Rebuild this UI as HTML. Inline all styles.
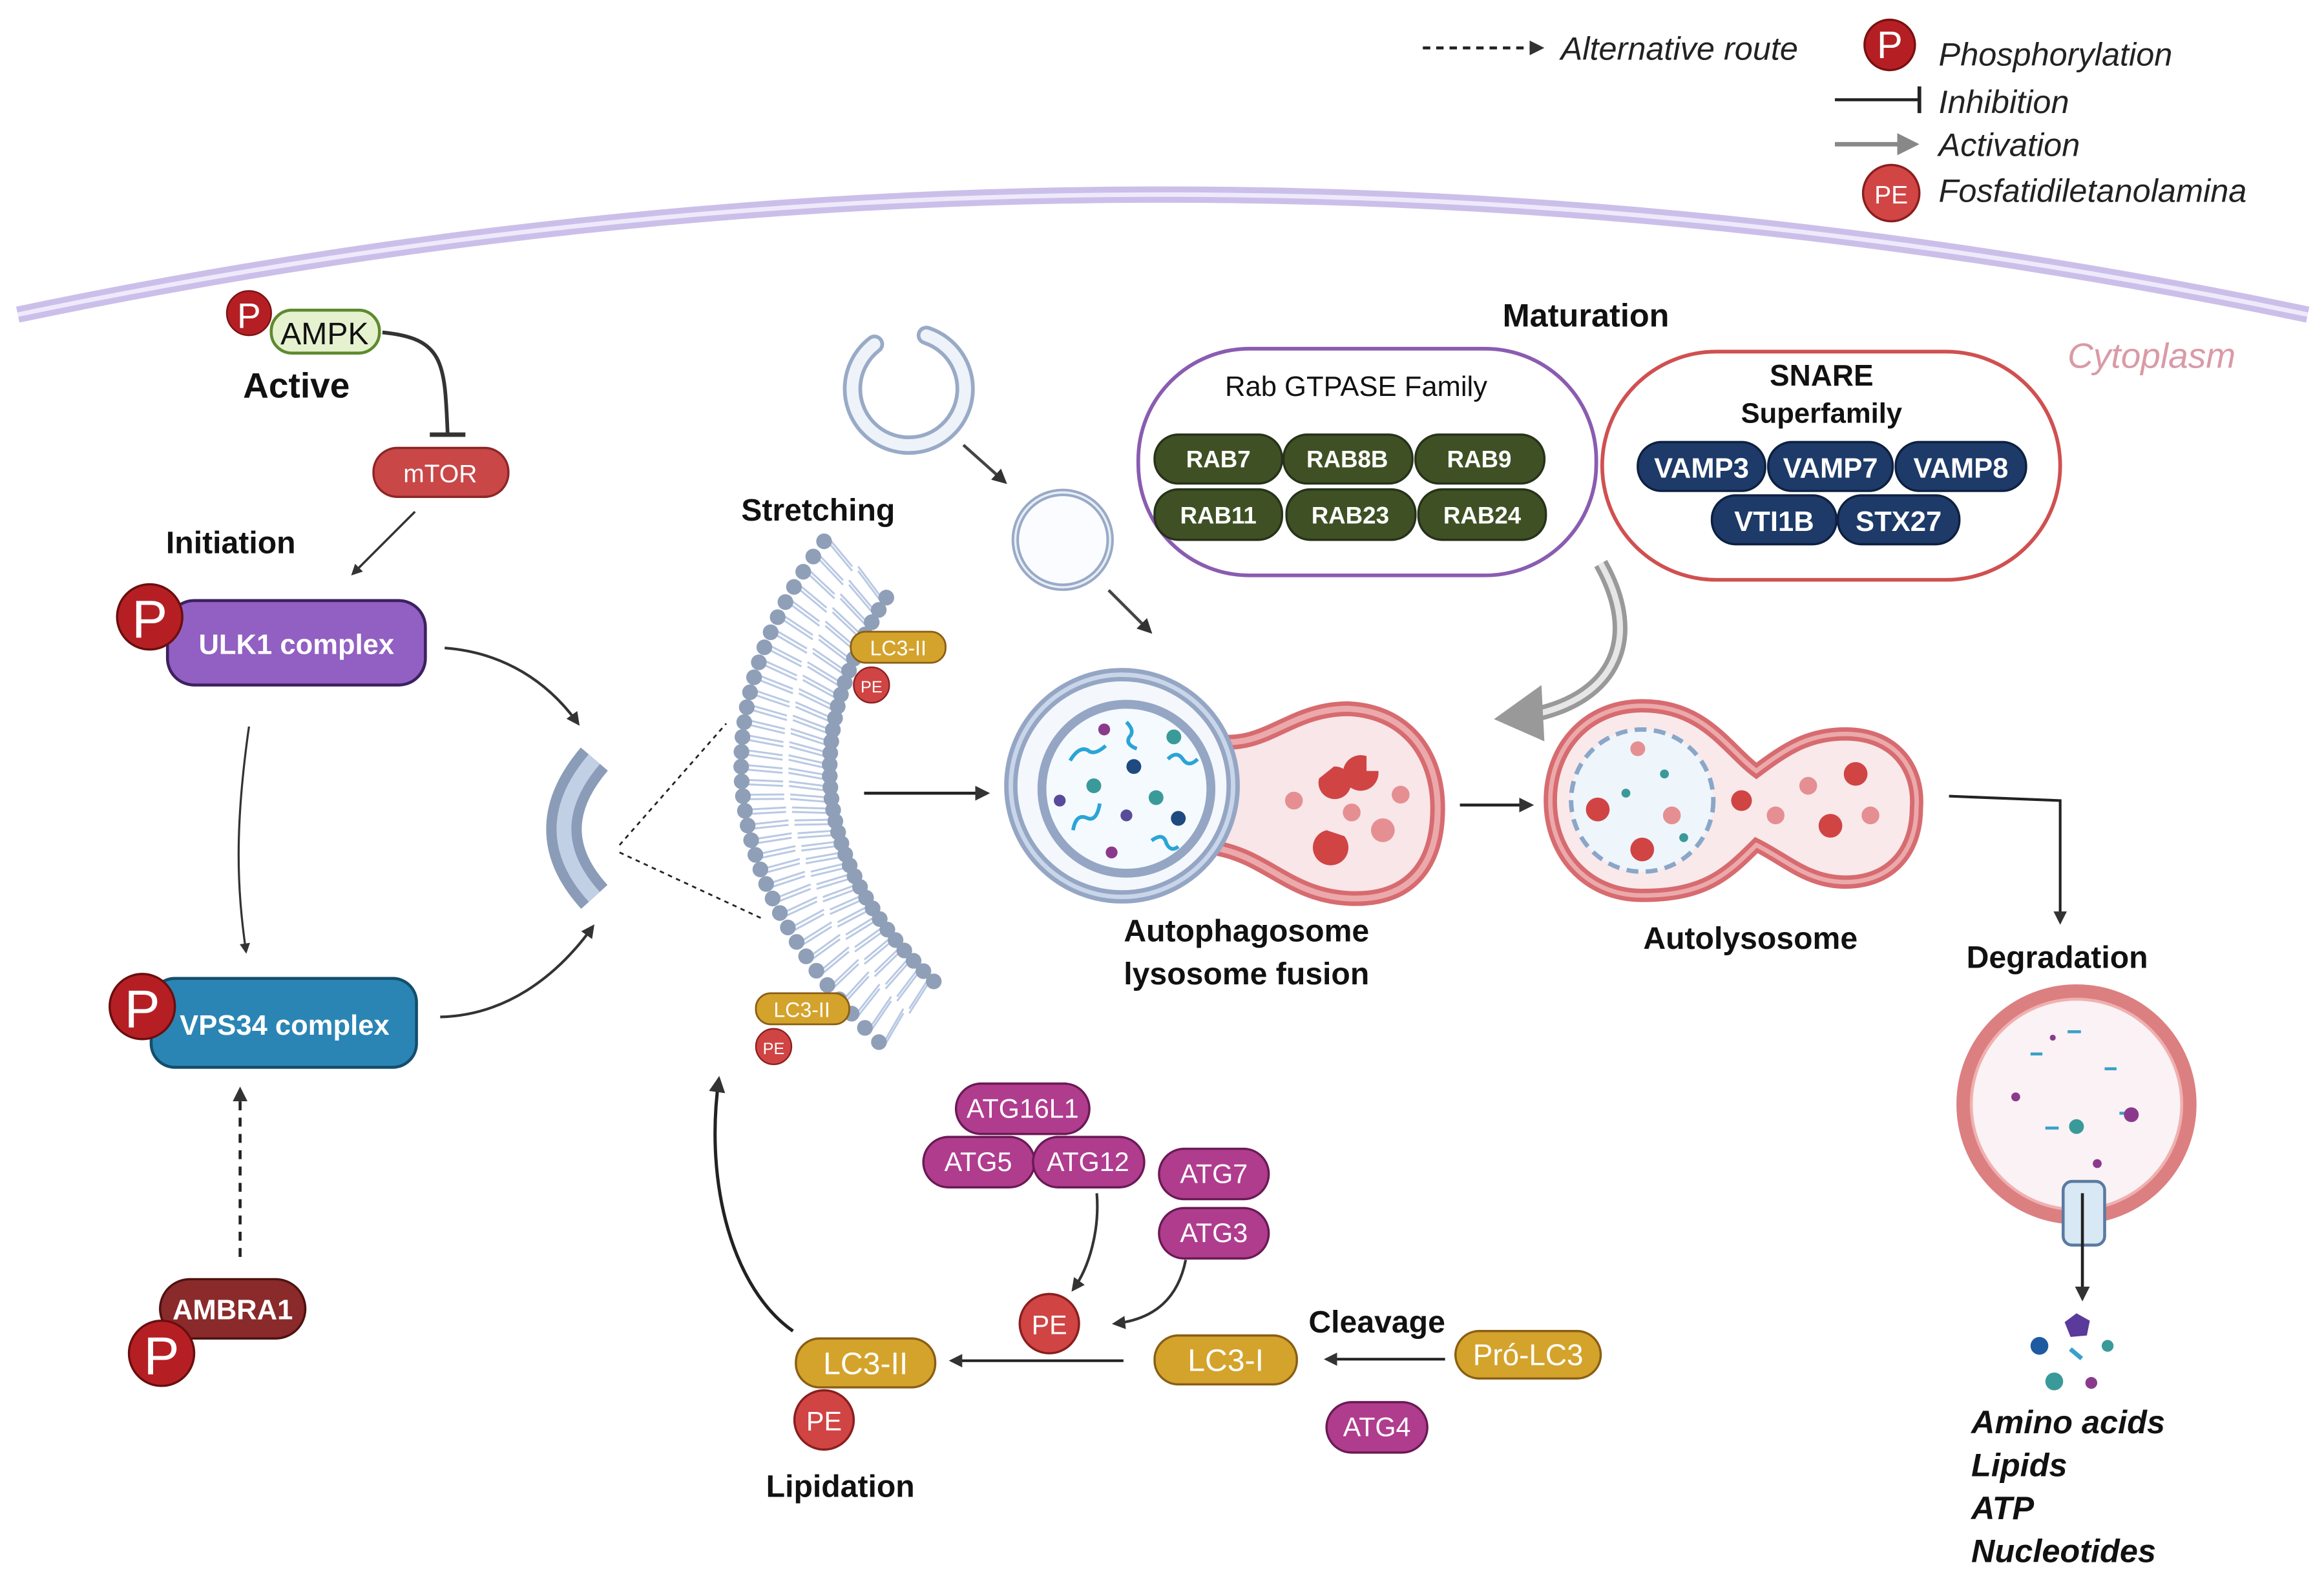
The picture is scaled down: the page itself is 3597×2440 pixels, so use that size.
<!DOCTYPE html>
<html><head><meta charset="utf-8">
<style>
html,body{margin:0;padding:0;background:#fff;}
svg{display:block;}
text{font-family:"Liberation Sans",sans-serif;}
</style></head>
<body>
<svg id="s" width="3597" height="2440" viewBox="0 0 1568 1063" xmlns="http://www.w3.org/2000/svg">
<defs>
<marker id="ah" viewBox="0 0 10 10" refX="8" refY="5" markerWidth="5" markerHeight="5" orient="auto"><path d="M0,0 L10,5 L0,10 z" fill="#333"/></marker>
<marker id="ahg" viewBox="0 0 10 10" refX="8" refY="5" markerWidth="5" markerHeight="5" orient="auto"><path d="M0,0 L10,5 L0,10 z" fill="#888"/></marker>
</defs>
<rect width="1568" height="1063" fill="#fff"/>

<!-- legend -->
<line x1="960" y1="32" x2="1040" y2="32" stroke="#222" stroke-width="2" stroke-dasharray="5,4" marker-end="url(#ah)"/>
<text x="1053" y="40" font-size="22" font-style="italic" fill="#222">Alternative route</text>
<circle cx="1275" cy="30" r="17" fill="#b51f24" stroke="#7a1010" stroke-width="1.5"/>
<text x="1275" y="39" font-size="26" fill="#fff" text-anchor="middle">P</text>
<text x="1308" y="44" font-size="22" font-style="italic" fill="#222">Phosphorylation</text>
<line x1="1238" y1="67" x2="1295" y2="67" stroke="#222" stroke-width="2"/>
<line x1="1295" y1="58" x2="1295" y2="76" stroke="#222" stroke-width="2.5"/>
<text x="1308" y="76" font-size="22" font-style="italic" fill="#222">Inhibition</text>
<line x1="1238" y1="97" x2="1292" y2="97" stroke="#888" stroke-width="3" marker-end="url(#ahg)"/>
<text x="1308" y="105" font-size="22" font-style="italic" fill="#222">Activation</text>
<circle cx="1276" cy="130" r="19" fill="#d24545" stroke="#8a1e1e" stroke-width="1.5"/>
<text x="1276" y="137" font-size="17" fill="#fff" text-anchor="middle">PE</text>
<text x="1308" y="136" font-size="22" font-style="italic" fill="#222">Fosfatidiletanolamina</text>

<!-- cell membrane -->
<path d="M12,212 Q785,50 1557,212" fill="none" stroke="#cbbfea" stroke-width="11"/>
<path d="M12,212 Q785,50 1557,212" fill="none" stroke="#efeafb" stroke-width="3"/>
<text x="1395" y="248" font-size="24" font-style="italic" fill="#d99aa6">Cytoplasm</text>

<!-- AMPK -->
<path d="M258,224 C300,228 300,245 302,292" fill="none" stroke="#333" stroke-width="2.5"/>
<line x1="290" y1="293" x2="314" y2="293" stroke="#333" stroke-width="3"/>
<rect x="183" y="209" width="73" height="29" rx="14" fill="#e6f2cf" stroke="#5e8a2e" stroke-width="2"/>
<text x="219" y="232" font-size="21" text-anchor="middle" fill="#111">AMPK</text>
<circle cx="168" cy="211" r="15" fill="#b51f24" stroke="#7a1010"/>
<text x="168" y="221" font-size="24" fill="#fff" text-anchor="middle">P</text>
<text x="200" y="268" font-size="24" font-weight="bold" text-anchor="middle" fill="#111">Active</text>
<rect x="252" y="302" width="91" height="33" rx="16" fill="#c94747" stroke="#8d2626" stroke-width="1.5"/>
<text x="297" y="325" font-size="17" fill="#fff" text-anchor="middle">mTOR</text>
<line x1="280" y1="345" x2="238" y2="387" stroke="#333" stroke-width="1.5" marker-end="url(#ah)"/>
<text x="112" y="373" font-size="21" font-weight="bold" fill="#111">Initiation</text>

<!-- ULK1 -->
<rect x="113" y="405" width="174" height="57" rx="18" fill="#9160c2" stroke="#3d2160" stroke-width="2"/>
<text x="200" y="441" font-size="19" font-weight="bold" fill="#fff" text-anchor="middle">ULK1 complex</text>
<circle cx="101" cy="416" r="22" fill="#b51f24" stroke="#6a0e0e" stroke-width="1.5"/>
<text x="101" y="430" font-size="36" fill="#fff" text-anchor="middle">P</text>
<path d="M168,490 C158,560 160,600 166,642" fill="none" stroke="#333" stroke-width="1.4" marker-end="url(#ah)"/>

<!-- VPS34 -->
<rect x="102" y="660" width="179" height="60" rx="16" fill="#2a85b4" stroke="#144e6d" stroke-width="2"/>
<text x="192" y="698" font-size="19" font-weight="bold" fill="#fff" text-anchor="middle">VPS34 complex</text>
<circle cx="96" cy="679" r="22" fill="#b51f24" stroke="#6a0e0e" stroke-width="1.5"/>
<text x="96" y="693" font-size="36" fill="#fff" text-anchor="middle">P</text>
<line x1="162" y1="848" x2="162" y2="735" stroke="#222" stroke-width="2" stroke-dasharray="6,5" marker-end="url(#ah)"/>

<!-- AMBRA1 -->
<rect x="108" y="863" width="98" height="40" rx="20" fill="#8a2a2a" stroke="#4d1212" stroke-width="1.5"/>
<text x="157" y="890" font-size="19" font-weight="bold" fill="#fff" text-anchor="middle">AMBRA1</text>
<circle cx="109" cy="913" r="22" fill="#b51f24" stroke="#6a0e0e" stroke-width="1.5"/>
<text x="109" y="927" font-size="36" fill="#fff" text-anchor="middle">P</text>

<!-- arrows to phagophore -->
<path d="M300,437 C340,440 370,460 390,488" fill="none" stroke="#333" stroke-width="1.8" marker-end="url(#ah)"/>
<path d="M297,686 C340,685 375,660 400,625" fill="none" stroke="#333" stroke-width="1.8" marker-end="url(#ah)"/>

<!-- phagophore -->
<path d="M401,512 Q360,560 401,605" fill="none" stroke="#8b9cb8" stroke-width="24"/>
<path d="M401,512 Q360,560 401,605" fill="none" stroke="#c2d0e6" stroke-width="10"/>
<line x1="418" y1="570" x2="490" y2="488" stroke="#222" stroke-width="1.2" stroke-dasharray="3,3"/>
<line x1="418" y1="575" x2="515" y2="620" stroke="#222" stroke-width="1.2" stroke-dasharray="3,3"/>

<text x="552" y="351" font-size="21" font-weight="bold" text-anchor="middle" fill="#111">Stretching</text>
<g id="mem"></g>
<rect x="574" y="426" width="64" height="21" rx="10" fill="#d4a32c" stroke="#8a5e14" stroke-width="1.2"/>
<text x="606" y="442" font-size="14" fill="#fff" text-anchor="middle">LC3-II</text>
<circle cx="588" cy="462" r="12" fill="#d04444" stroke="#8a1e1e"/>
<text x="588" y="467" font-size="11" fill="#fff" text-anchor="middle">PE</text>
<rect x="510" y="670" width="63" height="21" rx="10" fill="#d4a32c" stroke="#8a5e14" stroke-width="1.2"/>
<text x="541" y="686" font-size="14" fill="#fff" text-anchor="middle">LC3-II</text>
<circle cx="522" cy="706" r="12" fill="#d04444" stroke="#8a1e1e"/>
<text x="522" y="711" font-size="11" fill="#fff" text-anchor="middle">PE</text>

<!-- vesicles -->
<path d="M590,232 A38,38 0 1 0 625,226" fill="none" stroke="#98aac6" stroke-width="13" stroke-linecap="round"/>
<path d="M590,232 A38,38 0 1 0 625,226" fill="none" stroke="#eef3fa" stroke-width="8" stroke-linecap="round"/>
<circle cx="717" cy="364" r="32" fill="#fafcff" stroke="#98aac6" stroke-width="5"/>
<circle cx="717" cy="364" r="32" fill="none" stroke="#e8eef7" stroke-width="1.5"/>
<line x1="650" y1="300" x2="678" y2="325" stroke="#444" stroke-width="2" marker-end="url(#ah)"/>
<line x1="748" y1="398" x2="776" y2="426" stroke="#444" stroke-width="2" marker-end="url(#ah)"/>
<line x1="583" y1="535" x2="666" y2="535" stroke="#222" stroke-width="2" marker-end="url(#ah)"/>

<!-- autophagosome-lysosome fusion -->
<path d="M820,500 C855,505 870,478 910,478 C950,480 970,510 970,545 C970,585 950,608 910,606 C870,604 855,578 820,572 z" fill="#f8e6e8" stroke="#d76b6f" stroke-width="10"/>
<path d="M820,500 C855,505 870,478 910,478 C950,480 970,510 970,545 C970,585 950,608 910,606 C870,604 855,578 820,572 z" fill="none" stroke="#eba9ab" stroke-width="4"/>
<circle cx="757" cy="530" r="75" fill="#f4f7fc" stroke="#95a6c4" stroke-width="9"/>
<circle cx="757" cy="530" r="75" fill="none" stroke="#c9d6ea" stroke-width="3"/>
<circle cx="760" cy="532" r="57" fill="#f5faff" stroke="#95a6c4" stroke-width="6"/>
<g fill="#d04444">
<path d="M890,525 a11,11 0 1 0 10,-8 l-10,8 z"/><path d="M930,520 a12,12 0 1 1 -8,-10 l0,10 z"/>
<path d="M895,560 a12,12 0 1 0 12,4 l-12,-4 z"/>
</g>
<g fill="#e58f92"><circle cx="873" cy="540" r="6"/><circle cx="912" cy="548" r="6"/><circle cx="945" cy="536" r="6"/><circle cx="933" cy="560" r="8"/></g>
<g>
<circle cx="745" cy="492" r="4" fill="#8b3a8b"/><circle cx="792" cy="497" r="5" fill="#3a9a9a"/>
<circle cx="765" cy="517" r="5" fill="#1e4a80"/><circle cx="738" cy="530" r="5" fill="#3a9a9a"/>
<circle cx="780" cy="538" r="5" fill="#3a9a9a"/><circle cx="715" cy="540" r="4" fill="#5a4a9a"/>
<circle cx="760" cy="550" r="4" fill="#5a4a9a"/><circle cx="795" cy="552" r="5" fill="#1e4a80"/>
<circle cx="750" cy="575" r="4" fill="#8b3a8b"/>
</g>
<g fill="none" stroke="#2aa5d5" stroke-width="2.5">
<path d="M760,487 q6,6 2,10 q-3,5 5,8"/><path d="M722,513 q6,-10 12,-7 q4,4 12,-3"/>
<path d="M788,512 q6,-6 10,0 q4,6 10,0"/><path d="M724,560 q2,-12 10,-8 q6,2 8,-10"/>
<path d="M777,567 q8,-6 10,2 q3,6 8,2"/>
</g>
<text x="841" y="635" font-size="21" font-weight="bold" text-anchor="middle" fill="#111">Autophagosome</text>
<text x="841" y="664" font-size="21" font-weight="bold" text-anchor="middle" fill="#111">lysosome fusion</text>
<line x1="985" y1="543" x2="1033" y2="543" stroke="#222" stroke-width="2" marker-end="url(#ah)"/>

<!-- autolysosome -->
<path d="M1108,476 C1150,476 1165,505 1185,520 C1205,505 1220,495 1245,495 C1280,495 1295,520 1293,545 C1293,575 1275,595 1245,595 C1220,595 1205,580 1185,570 C1165,590 1150,604 1108,604 C1070,604 1046,575 1046,540 C1046,505 1070,476 1108,476 z" fill="#f9e9ea" stroke="#d76b6f" stroke-width="9"/>
<path d="M1108,476 C1150,476 1165,505 1185,520 C1205,505 1220,495 1245,495 C1280,495 1295,520 1293,545 C1293,575 1275,595 1245,595 C1220,595 1205,580 1185,570 C1165,590 1150,604 1108,604 C1070,604 1046,575 1046,540 C1046,505 1070,476 1108,476 z" fill="none" stroke="#eba9ab" stroke-width="3"/>
<circle cx="1108" cy="540" r="48" fill="#eef5fb" stroke="#8aa6c8" stroke-width="3" stroke-dasharray="8,5"/>
<g fill="#d04444"><circle cx="1078" cy="546" r="8"/><circle cx="1108" cy="573" r="8"/><circle cx="1175" cy="540" r="7"/><circle cx="1252" cy="522" r="8"/><circle cx="1235" cy="557" r="8"/></g>
<g fill="#e58f92"><circle cx="1105" cy="505" r="5"/><circle cx="1128" cy="550" r="6"/><circle cx="1198" cy="550" r="6"/><circle cx="1220" cy="530" r="6"/><circle cx="1262" cy="550" r="6"/></g>
<g fill="#3a9a9a"><circle cx="1097" cy="535" r="3"/><circle cx="1123" cy="522" r="3"/><circle cx="1136" cy="565" r="3"/></g>
<text x="1181" y="640" font-size="21" font-weight="bold" text-anchor="middle" fill="#111">Autolysosome</text>
<polyline points="1315,537 1390,540 1390,622" fill="none" stroke="#222" stroke-width="1.8" marker-end="url(#ah)"/>

<!-- maturation -->
<text x="1070" y="220" font-size="22" font-weight="bold" text-anchor="middle" fill="#111">Maturation</text>
<rect x="768" y="235" width="309" height="153" rx="75" fill="#fff" stroke="#8a5cb0" stroke-width="2.5"/>
<text x="915" y="267" font-size="19" text-anchor="middle" fill="#111">Rab GTPASE Family</text>
<g fill="#3f5124" stroke="#26321a" stroke-width="1.5">
<rect x="779" y="293" width="86" height="33" rx="16"/><rect x="866" y="293" width="87" height="33" rx="16"/><rect x="955" y="293" width="87" height="33" rx="16"/>
<rect x="779" y="330" width="86" height="34" rx="16"/><rect x="868" y="330" width="87" height="34" rx="16"/><rect x="957" y="330" width="86" height="34" rx="16"/>
</g>
<g font-size="16" font-weight="bold" fill="#fff" text-anchor="middle">
<text x="822" y="315">RAB7</text><text x="909" y="315">RAB8B</text><text x="998" y="315">RAB9</text>
<text x="822" y="353">RAB11</text><text x="911" y="353">RAB23</text><text x="1000" y="353">RAB24</text>
</g>
<rect x="1081" y="237" width="309" height="154" rx="77" fill="#fff" stroke="#d05050" stroke-width="2.5"/>
<text x="1229" y="260" font-size="20" font-weight="bold" text-anchor="middle" fill="#111">SNARE</text>
<text x="1229" y="285" font-size="19" font-weight="bold" text-anchor="middle" fill="#111">Superfamily</text>
<g fill="#1d3a68" stroke="#0e2040" stroke-width="1.5">
<rect x="1105" y="298" width="86" height="33" rx="16"/><rect x="1193" y="298" width="84" height="33" rx="16"/><rect x="1279" y="298" width="88" height="33" rx="16"/>
<rect x="1155" y="334" width="84" height="33" rx="16"/><rect x="1240" y="334" width="82" height="33" rx="16"/>
</g>
<g font-size="19" font-weight="bold" fill="#fff" text-anchor="middle">
<text x="1148" y="322">VAMP3</text><text x="1235" y="322">VAMP7</text><text x="1323" y="322">VAMP8</text>
<text x="1197" y="358">VTI1B</text><text x="1281" y="358">STX27</text>
</g>
<path d="M1080,380 C1108,430 1090,470 1035,482" fill="none" stroke="#999" stroke-width="10"/>
<path d="M1080,380 C1108,430 1090,470 1035,482" fill="none" stroke="#e6e6e6" stroke-width="4"/>
<path d="M1040,462 L1008,485 L1042,500 z" fill="#999"/>

<!-- degradation -->
<text x="1388" y="653" font-size="21" font-weight="bold" text-anchor="middle" fill="#111">Degradation</text>
<circle cx="1401" cy="745" r="76" fill="#faf2f4" stroke="#dc7f80" stroke-width="10"/>
<circle cx="1401" cy="745" r="71" fill="none" stroke="#f0b0b0" stroke-width="2"/>
<g fill="#3aa0c8"><rect x="1370" y="710" width="8" height="2"/><rect x="1395" y="695" width="9" height="2"/><rect x="1420" y="720" width="8" height="2"/><rect x="1380" y="760" width="9" height="2"/><rect x="1430" y="750" width="8" height="2"/></g>
<g fill="#8b3a8b"><circle cx="1360" cy="740" r="3"/><circle cx="1438" cy="752" r="5"/><circle cx="1415" cy="785" r="3"/><circle cx="1385" cy="700" r="2"/></g>
<circle cx="1401" cy="760" r="5" fill="#3a9a9a"/>
<rect x="1392" y="797" width="28" height="43" rx="6" fill="#d8e8f4" stroke="#5a7aa0" stroke-width="2"/>
<line x1="1405" y1="805" x2="1405" y2="876" stroke="#222" stroke-width="2" marker-end="url(#ah)"/>
<polygon points="1401,886 1410,891 1408,901 1397,902 1393,892" fill="#5a3a9a"/>
<circle cx="1376" cy="908" r="6" fill="#1e5aa0"/><circle cx="1386" cy="932" r="6" fill="#3a9a9a"/>
<rect x="1396" y="912" width="10" height="3" fill="#3aa0c8" transform="rotate(40 1401 913)"/>
<circle cx="1422" cy="908" r="4" fill="#3a9a9a"/><circle cx="1411" cy="933" r="4" fill="#8b3a8b"/>
<g font-size="22" font-weight="bold" font-style="italic" fill="#111">
<text x="1330" y="967">Amino acids</text><text x="1330" y="996">Lipids</text><text x="1330" y="1025">ATP</text><text x="1330" y="1054">Nucleotides</text>
</g>

<!-- ATG -->
<g fill="#b03c8e" stroke="#6a1a54" stroke-width="1.5">
<rect x="645" y="731" width="90" height="34" rx="17"/>
<rect x="623" y="767" width="75" height="34" rx="17"/><rect x="697" y="767" width="75" height="34" rx="17"/>
<rect x="782" y="775" width="74" height="34" rx="17"/><rect x="782" y="815" width="74" height="34" rx="17"/>
<rect x="895" y="946" width="68" height="34" rx="17"/>
</g>
<g font-size="18" fill="#fff" text-anchor="middle">
<text x="690" y="754">ATG16L1</text><text x="660" y="790">ATG5</text><text x="734" y="790">ATG12</text>
<text x="819" y="798">ATG7</text><text x="819" y="838">ATG3</text><text x="929" y="969">ATG4</text>
</g>
<path d="M740,805 C742,830 735,855 724,870" fill="none" stroke="#333" stroke-width="1.8" marker-end="url(#ah)"/>
<path d="M800,850 C795,875 780,890 752,893" fill="none" stroke="#333" stroke-width="1.8" marker-end="url(#ah)"/>
<circle cx="708" cy="893" r="20" fill="#d04444" stroke="#8a1e1e" stroke-width="1.5"/>
<text x="708" y="900" font-size="18" fill="#fff" text-anchor="middle">PE</text>
<text x="929" y="899" font-size="21" font-weight="bold" text-anchor="middle" fill="#111">Cleavage</text>
<rect x="982" y="898" width="98" height="32" rx="16" fill="#d4a32c" stroke="#8a5e14" stroke-width="1.5"/>
<text x="1031" y="921" font-size="20" fill="#fff" text-anchor="middle">Pró-LC3</text>
<line x1="975" y1="917" x2="895" y2="917" stroke="#222" stroke-width="1.8" marker-end="url(#ah)"/>
<rect x="779" y="901" width="96" height="33" rx="16" fill="#d4a32c" stroke="#8a5e14" stroke-width="1.5"/>
<text x="827" y="925" font-size="21" fill="#fff" text-anchor="middle">LC3-I</text>
<line x1="758" y1="918" x2="642" y2="918" stroke="#222" stroke-width="1.8" marker-end="url(#ah)"/>
<rect x="537" y="903" width="94" height="33" rx="16" fill="#d4a32c" stroke="#8a5e14" stroke-width="1.5"/>
<text x="584" y="927" font-size="21" fill="#fff" text-anchor="middle">LC3-II</text>
<circle cx="556" cy="958" r="20" fill="#d04444" stroke="#8a1e1e" stroke-width="1.5"/>
<text x="556" y="965" font-size="18" fill="#fff" text-anchor="middle">PE</text>
<text x="567" y="1010" font-size="21" font-weight="bold" text-anchor="middle" fill="#111">Lipidation</text>
<path d="M535,898 C495,870 475,800 485,728" fill="none" stroke="#222" stroke-width="2.2" marker-end="url(#ah)"/>
</svg>
<script>
(function(){
var g=document.getElementById('mem'),h='';
function q(p0,c,p2,t){var u=1-t;return [u*u*p0[0]+2*u*t*c[0]+t*t*p2[0],u*u*p0[1]+2*u*t*c[1]+t*t*p2[1]];}
var O=[[556,365],[428,540],[593,703]],I=[[598,403],[508,545],[630,662]];
var n=34;
for(var i=0;i<=n;i++){var t=i/n,a=q(O[0],O[1],O[2],t),b=q(I[0],I[1],I[2],t);
 var mx=(a[0]+b[0])/2,my=(a[1]+b[1])/2;
 h+='<line x1="'+(a[0]+4)+'" y1="'+(a[1]-1)+'" x2="'+(mx-2)+'" y2="'+(my-2)+'" stroke="#b9c9e4" stroke-width="1.3"/>';
 h+='<line x1="'+(a[0]+4)+'" y1="'+(a[1]+2)+'" x2="'+(mx-2)+'" y2="'+(my+1)+'" stroke="#b9c9e4" stroke-width="1.3"/>';
 h+='<line x1="'+(b[0]-4)+'" y1="'+(b[1]-1)+'" x2="'+(mx+2)+'" y2="'+(my-2)+'" stroke="#b9c9e4" stroke-width="1.3"/>';
 h+='<line x1="'+(b[0]-4)+'" y1="'+(b[1]+2)+'" x2="'+(mx+2)+'" y2="'+(my+1)+'" stroke="#b9c9e4" stroke-width="1.3"/>';
}
for(var i=0;i<=n;i++){var t=i/n,a=q(O[0],O[1],O[2],t),b=q(I[0],I[1],I[2],t);
 h+='<circle cx="'+a[0]+'" cy="'+a[1]+'" r="5.3" fill="#8f9fb8"/>';
 h+='<circle cx="'+b[0]+'" cy="'+b[1]+'" r="5.3" fill="#8f9fb8"/>';
}
g.innerHTML=h;
})();
</script>
</body></html>
